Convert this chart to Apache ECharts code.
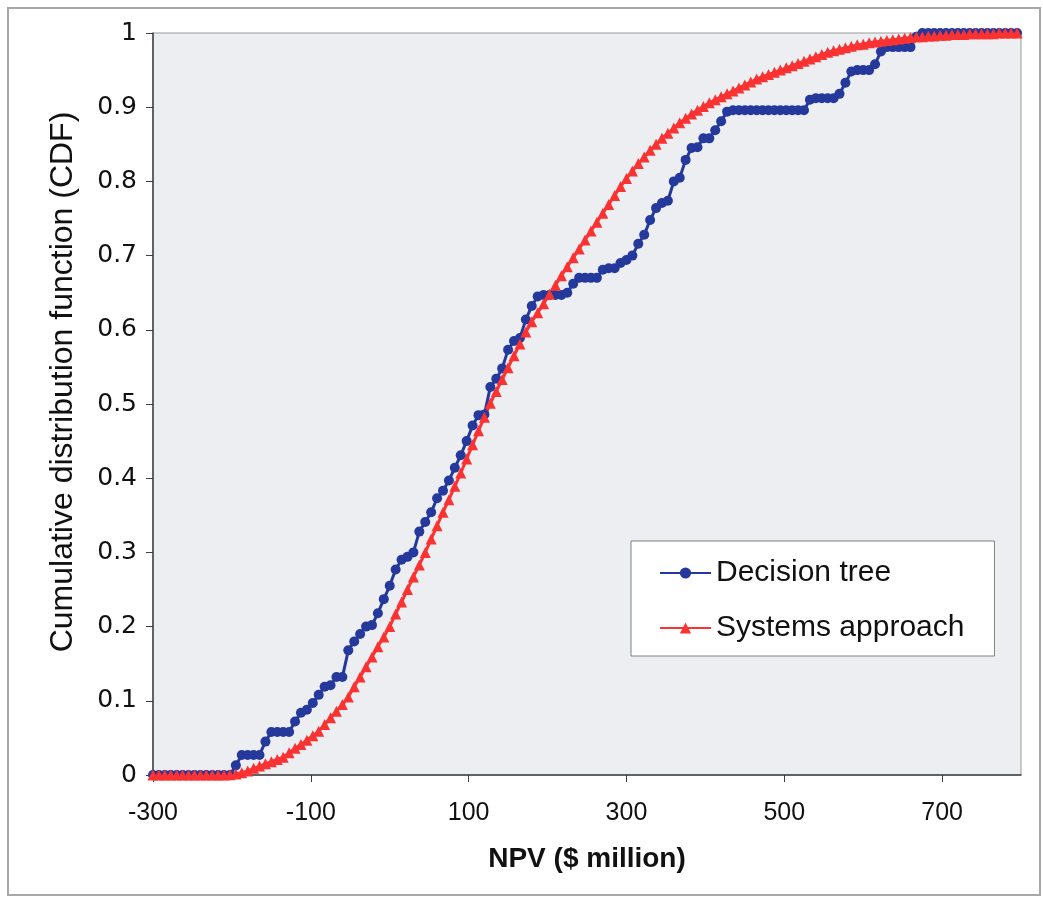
<!DOCTYPE html>
<html lang="en">
<head>
    <meta charset="UTF-8">
    <title>CDF of NPV</title>
    <script src="https://cdn.jsdelivr.net/npm/echarts/dist/echarts.min.js"></script>
    <style>
        *{
            margin: 0;
            padding: 0;
        }
        body{
            background-color: #ffffff;
            overflow: hidden;
        }
        #main{
            width: 1043px;
            height: 904px;
        }
    </style>
</head>
<body>
<div id="main"></div>
<script>
    // NPV grid ($ million), shared by both curves
    var npv = [-300, -292.5, -285, -277.5, -270, -262.5, -255, -247.5, -240, -232.5,
        -225, -217.5, -210, -202.5, -195, -187.5, -180, -172.5, -165, -157.5,
        -150, -142.5, -135, -127.5, -120, -112.5, -105, -97.5, -90, -82.5,
        -75, -67.5, -60, -52.5, -45, -37.5, -30, -22.5, -15, -7.5,
        0, 7.5, 15, 22.5, 30, 37.5, 45, 52.5, 60, 67.5,
        75, 82.5, 90, 97.5, 105, 112.5, 120, 127.5, 135, 142.5,
        150, 157.5, 165, 172.5, 180, 187.5, 195, 202.5, 210, 217.5,
        225, 232.5, 240, 247.5, 255, 262.5, 270, 277.5, 285, 292.5,
        300, 307.5, 315, 322.5, 330, 337.5, 345, 352.5, 360, 367.5,
        375, 382.5, 390, 397.5, 405, 412.5, 420, 427.5, 435, 442.5,
        450, 457.5, 465, 472.5, 480, 487.5, 495, 502.5, 510, 517.5,
        525, 532.5, 540, 547.5, 555, 562.5, 570, 577.5, 585, 592.5,
        600, 607.5, 615, 622.5, 630, 637.5, 645, 652.5, 660, 667.5,
        675, 682.5, 690, 697.5, 705, 712.5, 720, 727.5, 735, 742.5,
        750, 757.5, 765, 772.5, 780, 787.5, 795];

    // Decision tree (empirical step CDF)
    var cdfTree = [0, 0, 0, 0, 0, 0, 0, 0, 0, 0, 0, 0, 0,
        0, 0.013, 0.027, 0.027, 0.027, 0.027, 0.045, 0.058, 0.058, 0.058,
        0.058, 0.072, 0.084, 0.088, 0.097, 0.108, 0.119, 0.121, 0.132, 0.132,
        0.168, 0.180, 0.190, 0.200, 0.202, 0.218, 0.237, 0.255, 0.277, 0.290,
        0.294, 0.300, 0.328, 0.341, 0.354, 0.373, 0.383, 0.397, 0.414, 0.431,
        0.450, 0.471, 0.485, 0.486, 0.523, 0.534, 0.548, 0.573, 0.585, 0.589,
        0.614, 0.632, 0.645, 0.647, 0.647, 0.647, 0.647, 0.650, 0.662, 0.670,
        0.670, 0.670, 0.670, 0.681, 0.683, 0.683, 0.690, 0.694, 0.700, 0.716,
        0.728, 0.748, 0.764, 0.771, 0.774, 0.800, 0.805, 0.829, 0.845, 0.846,
        0.858, 0.858, 0.869, 0.881, 0.894, 0.896, 0.896, 0.896, 0.896, 0.896,
        0.896, 0.896, 0.896, 0.896, 0.896, 0.896, 0.896, 0.896, 0.910, 0.912,
        0.912, 0.912, 0.912, 0.918, 0.933, 0.948, 0.950, 0.950, 0.950, 0.958,
        0.975, 0.981, 0.981, 0.981, 0.981, 0.981, 0.995, 1, 1, 1,
        1, 1, 1, 1, 1, 1, 1, 1, 1, 1,
        1, 1, 1, 1];

    // Systems approach (smooth CDF)
    var cdfSystems = [0, 0, 0, 0, 0, 0, 0, 0, 0, 0, 0, 0, 0,
        0.0005, 0.0015, 0.003, 0.0055, 0.009, 0.012, 0.015, 0.018, 0.021, 0.024,
        0.030, 0.036, 0.041, 0.047, 0.053, 0.059, 0.068, 0.077, 0.086, 0.095,
        0.105, 0.119, 0.132, 0.146, 0.159, 0.173, 0.186, 0.200, 0.217, 0.233,
        0.250, 0.267, 0.283, 0.300, 0.318, 0.336, 0.354, 0.371, 0.389, 0.407,
        0.426, 0.445, 0.464, 0.482, 0.501, 0.517, 0.533, 0.549, 0.565, 0.581,
        0.597, 0.611, 0.623, 0.635, 0.648, 0.660, 0.673, 0.685, 0.697, 0.709,
        0.721, 0.733, 0.745, 0.757, 0.769, 0.781, 0.793, 0.804, 0.814, 0.824,
        0.833, 0.842, 0.850, 0.858, 0.865, 0.872, 0.879, 0.885, 0.891, 0.896,
        0.901, 0.906, 0.910, 0.914, 0.918, 0.922, 0.926, 0.930, 0.934, 0.938,
        0.941, 0.944, 0.947, 0.950, 0.953, 0.956, 0.959, 0.962, 0.965, 0.968,
        0.971, 0.974, 0.976, 0.978, 0.980, 0.982, 0.984, 0.985, 0.987, 0.988,
        0.989, 0.990, 0.991, 0.992, 0.993, 0.994, 0.995, 0.995, 0.996, 0.996,
        0.997, 0.997, 0.998, 0.998, 0.998, 0.999, 0.999, 0.999, 0.999, 0.999,
        1, 1, 1, 1];

    var seriesNames = ['Decision tree', 'Systems approach'];

    function pairs(ys) {
        var out = [];
        for (var i = 0; i < npv.length; i++) {
            out.push([npv[i], ys[i]]);
        }
        return out;
    }

    var myChart = echarts.init(document.getElementById('main'));

    var option = {
        backgroundColor: '#ffffff',
        animation: false,
        graphic: [{
            type: 'rect',
            shape: {x: 8, y: 8, width: 1032, height: 887},
            style: {fill: 'none', stroke: '#a8a8a8', lineWidth: 2},
            silent: true
        }],
        grid: {
            left: 153,
            right: 22,
            top: 33,
            bottom: 129,
            show: true,
            backgroundColor: '#eceef1',
            borderColor: '#9a9a9a',
            borderWidth: 1
        },
        legend: {
            orient: 'vertical',
            left: 631,
            top: 541,
            padding: [17, 30, 13, 28],
            itemGap: 25,
            itemWidth: 51,
            itemHeight: 14,
            backgroundColor: '#ffffff',
            borderColor: '#808080',
            borderWidth: 1,
            textStyle: {
                fontFamily: 'Liberation Sans',
                fontSize: 30,
                color: '#111111'
            },
            data: seriesNames
        },
        xAxis: {
            type: 'value',
            min: -300,
            max: 800,
            interval: 200,
            name: 'NPV ($ million)',
            nameLocation: 'middle',
            nameGap: 70,
            nameTextStyle: {
                fontFamily: 'Liberation Sans',
                fontWeight: 'bold',
                fontSize: 28,
                color: '#111111'
            },
            axisLine: {onZero: false, lineStyle: {color: '#404040', width: 1.5}},
            axisTick: {show: true, length: 7, lineStyle: {color: '#404040'}},
            splitLine: {show: false},
            axisLabel: {
                margin: 26,
                showMaxLabel: false,
                fontFamily: 'Liberation Sans',
                fontSize: 25,
                color: '#111111'
            }
        },
        yAxis: {
            type: 'value',
            min: 0,
            max: 1,
            interval: 0.1,
            name: 'Cumulative distribution function (CDF)',
            nameLocation: 'middle',
            nameGap: 74,
            nameTextStyle: {
                fontFamily: 'Liberation Sans',
                fontSize: 32,
                color: '#111111',
                padding: [0, 0, 0, 44]
            },
            axisLine: {show: true, onZero: false, lineStyle: {color: '#404040', width: 1.5}},
            axisTick: {show: true, length: 7, lineStyle: {color: '#404040'}},
            splitLine: {show: false},
            axisLabel: {
                margin: 16,
                fontFamily: 'DejaVu Sans',
                fontSize: 25,
                color: '#111111'
            }
        },
        series: [
            {
                name: 'Decision tree',
                type: 'line',
                clip: false,
                symbol: 'circle',
                symbolSize: 10,
                lineStyle: {color: '#24399b', width: 3},
                itemStyle: {color: '#24399b'},
                data: pairs(cdfTree)
            },
            {
                name: 'Systems approach',
                type: 'line',
                clip: false,
                symbol: 'triangle',
                symbolSize: 11,
                lineStyle: {color: '#fa3232', width: 3},
                itemStyle: {color: '#fa3232'},
                data: pairs(cdfSystems)
            }
        ]
    };

    myChart.setOption(option);
    window.onresize = myChart.resize;
</script>
</body>
</html>
